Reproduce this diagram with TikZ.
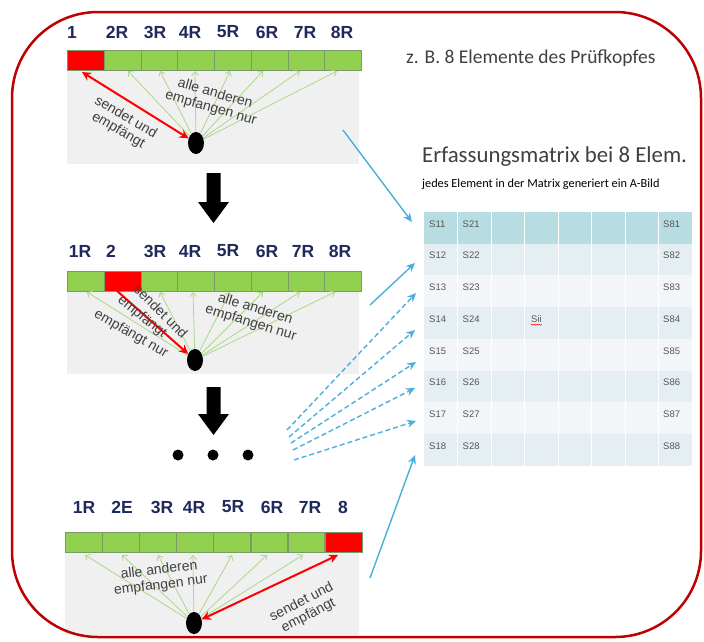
\documentclass[tikz,border=0pt]{standalone}
\usepackage{fontspec}
\setmainfont{Liberation Sans}
\newfontfamily\calfont{Carlito}
\usetikzlibrary{arrows.meta,shapes.geometric,decorations.pathmorphing}
\definecolor{bred}{HTML}{C00000}
\definecolor{cgreen}{HTML}{92D050}
\definecolor{cborder}{HTML}{7A9A6A}
\definecolor{cred}{HTML}{FF0000}
\definecolor{navy}{HTML}{1F2A5C}
\definecolor{pgray}{HTML}{F0F0F0}
\definecolor{lgreen}{HTML}{ADD888}
\definecolor{tgray}{HTML}{404040}
\definecolor{cyanarr}{HTML}{4AAFDE}
\definecolor{rowA}{HTML}{B7DDE3}
\definecolor{rowB}{HTML}{E5EFF3}
\definecolor{rowC}{HTML}{F2F6F8}
\definecolor{mtext}{HTML}{555555}
\begin{document}
\begin{tikzpicture}[x=1pt,y=-1pt,
 cell/.style={draw=cborder, fill=cgreen, line width=0.6pt, minimum width=36.75pt, minimum height=20pt, inner sep=0pt, anchor=north west},
 redcell/.style={cell, fill=cred},
 lbl/.style={font=\bfseries\fontsize{17.5}{17.5}\selectfont, text=navy, inner sep=0pt},
 bgpanel/.style={fill=pgray},
 probe/.style={ellipse, fill=black, minimum width=16pt, minimum height=22pt, inner sep=0pt},
 garrow/.style={draw=lgreen, line width=0.8pt, -{Straight Barb[length=4pt,width=7pt]}},
 rarrow/.style={draw=cred, line width=2pt},
 ptext/.style={font=\fontsize{14}{15}\selectfont, text=tgray, align=center, inner sep=0pt},
 carrow/.style={draw=cyanarr, line width=1.4pt, -{Stealth[length=9pt,width=8pt]}},
 cdash/.style={carrow, dash pattern=on 5pt off 3pt},
 mtxt/.style={font=\fontsize{9.5}{10}\selectfont, text=mtext, anchor=west, inner sep=0pt}]
\useasboundingbox (0,0) rectangle (704,641);
\fill[white] (0,0) rectangle (704,641);

% ---------- panel 1 ----------
\fill[bgpanel] (67,70) rectangle (359,164);
\foreach \i in {2,...,8} \node[cell] (a\i) at ({67+(\i-1)*36.75},50) {};
\node[redcell] (a1) at (67,50) {};
\foreach \t/\x [count=\k] in {1/72,2R/117,3R/155,4R/190,5R/228,6R/267,7R/305,8R/342}
  \node[lbl] (la\k) at (\x,32) {\t};
\node[probe] (pa) at (196,143) {};
\foreach \x [count=\k] in {128,160,195,230,263,300,337} {
  \coordinate (ga\k) at (\x,71);
  \draw[garrow] (pa) -- (ga\k);
}
\coordinate (ra) at (82,72);
\draw[rarrow,{Stealth[length=9pt,width=9pt]}-{Stealth[length=9pt,width=9pt]}] (ra) -- (pa);
\node[ptext, rotate=-30] (ta1) at (122,124) {sendet und\\empfängt};
\node[ptext, rotate=-16] (ta2) at (213,101) {alle anderen\\empfangen nur};

% down arrow 1
\fill (206.5,173) -- (220.5,173) -- (220.5,202) -- (229,202) -- (213.5,223) -- (198,202) -- (206.5,202) -- cycle;

% ---------- panel 2 ----------
\fill[bgpanel] (67,291) rectangle (359,374);
\foreach \i in {1,3,4,5,6,7,8} \node[cell] (b\i) at ({67+(\i-1)*36.75},271) {};
\node[redcell] (b2) at (103.75,271) {};
\foreach \t/\x [count=\k] in {1R/80,2/111,3R/155,4R/190,5R/228,6R/267,7R/303,8R/340}
  \node[lbl] (lb\k) at (\x,251) {\t};
\node[probe] (pb) at (195,360) {};
\foreach \x [count=\k] in {87,160,193,230,263,300,335} {
  \coordinate (gb\k) at (\x,292);
  \draw[garrow] (pb) -- (gb\k);
}
\coordinate (rb) at (116,290);
\draw[rarrow,-{Stealth[length=9pt,width=9pt]}] (rb) -- (pb);
\node[ptext, rotate=-45] (tb1) at (161,311) {sendet und};
\node[ptext, rotate=-39] (tb2) at (142,317) {empfängt};
\node[ptext, rotate=-30] (tb3) at (131,334) {empfängt nur};
\node[ptext, rotate=-17] (tb4) at (253,316) {alle anderen\\empfangen nur};

% down arrow 2
\fill (206.5,387) -- (220.5,387) -- (220.5,414) -- (229,414) -- (213.5,435) -- (198,414) -- (206.5,414) -- cycle;
\fill (178,455) circle[radius=5.5pt];
\fill (213,455) circle[radius=5.5pt];
\fill (248,455) circle[radius=5.5pt];

% ---------- panel 3 ----------
\fill[bgpanel] (65,552) rectangle (359,635);
\foreach \i in {1,...,7} \node[cell] (c\i) at ({65+(\i-1)*37.1},532) {};
\node[redcell, minimum width=37.1pt] (c8) at ({65+7*37.1},532) {};
\foreach \t/\x [count=\k] in {1R/84,2E/122,3R/162,4R/194,5R/233,6R/272,7R/310,8/343}
  \node[lbl] (lc\k) at (\x,507) {\t};
\node[probe] (pc) at (194,623) {};
\foreach \x [count=\k] in {85,122,158,193,232,267,303} {
  \coordinate (gc\k) at (\x,555);
  \draw[garrow] (pc) -- (gc\k);
}
\coordinate (rc) at (338,555);
\draw[rarrow,{Stealth[length=9pt,width=9pt]}-{Stealth[length=9pt,width=9pt]}] (rc) -- (pc);
\node[ptext, rotate=7] (tc1) at (160,578) {alle anderen\\empfangen nur};
\node[ptext, rotate=27] (tc2) at (305,609) {sendet und\\empfängt};

% ---------- right side ----------
\node[font=\calfont\fontsize{19.5}{19.5}\selectfont, text=tgray, anchor=west, inner sep=0pt] (zb) at (406,58) {z. B. 8 Elemente des Prüfkopfes};
\node[font=\calfont\fontsize{22.8}{22.8}\selectfont, text=tgray, anchor=west, inner sep=0pt] (title) at (422,157) {Erfassungsmatrix bei 8 Elem.};
\node[font=\calfont\fontsize{12.3}{12.3}\selectfont, text=black, anchor=west, inner sep=0pt] (sub) at (422,184) {jedes Element in der Matrix generiert ein A-Bild};

\foreach \r/\c in {1/rowA,2/rowB,3/rowC,4/rowB,5/rowC,6/rowB,7/rowC,8/rowB}
  \fill[\c] (424,{212+31.7*(\r-1)}) rectangle (692,{212+31.7*\r});
\foreach \c in {1,...,7}
  \draw[white, line width=0.7pt] ({424+33.5*\c},212) -- ({424+33.5*\c},465.6);
\foreach \r in {1,...,8} {
  \node[mtxt] (s1\r) at (429,{212+31.7*(\r-1)+12}) {S1\r};
  \node[mtxt] (s2\r) at (462.5,{212+31.7*(\r-1)+12}) {S2\r};
  \node[mtxt] (s8\r) at (663,{212+31.7*(\r-1)+12}) {S8\r};
}
\node[mtxt] (sii) at (531,319) {Sii};
\draw[red, line width=0.5pt, decorate, decoration={snake, amplitude=0.6pt, segment length=2.5pt}] ([yshift=-2pt]sii.south west) -- ([yshift=-2pt]sii.south east);

% cyan arrows
\coordinate (k1s) at (343,130); \coordinate (k1e) at (412,222);
\coordinate (k2s) at (370,305); \coordinate (k2e) at (415,263);
\coordinate (k3s) at (287,430); \coordinate (k3e) at (416,293);
\coordinate (k4s) at (289,437); \coordinate (k4e) at (415,330);
\coordinate (k5s) at (291,443); \coordinate (k5e) at (416,362);
\coordinate (k6s) at (293,450); \coordinate (k6e) at (415,388);
\coordinate (k7s) at (294,460); \coordinate (k7e) at (416,421);
\coordinate (k8s) at (370,578); \coordinate (k8e) at (415,455);
\draw[carrow] (k1s) -- (k1e);
\draw[carrow] (k2s) -- (k2e);
\draw[cdash] (k3s) -- (k3e);
\draw[cdash] (k4s) -- (k4e);
\draw[cdash] (k5s) -- (k5e);
\draw[cdash] (k6s) -- (k6e);
\draw[cdash] (k7s) -- (k7e);
\draw[carrow] (k8s) -- (k8e);

% border
\draw[bred, line width=2.5pt, rounded corners=86pt] (12,12) rectangle (701,637);
\end{tikzpicture}
\end{document}
